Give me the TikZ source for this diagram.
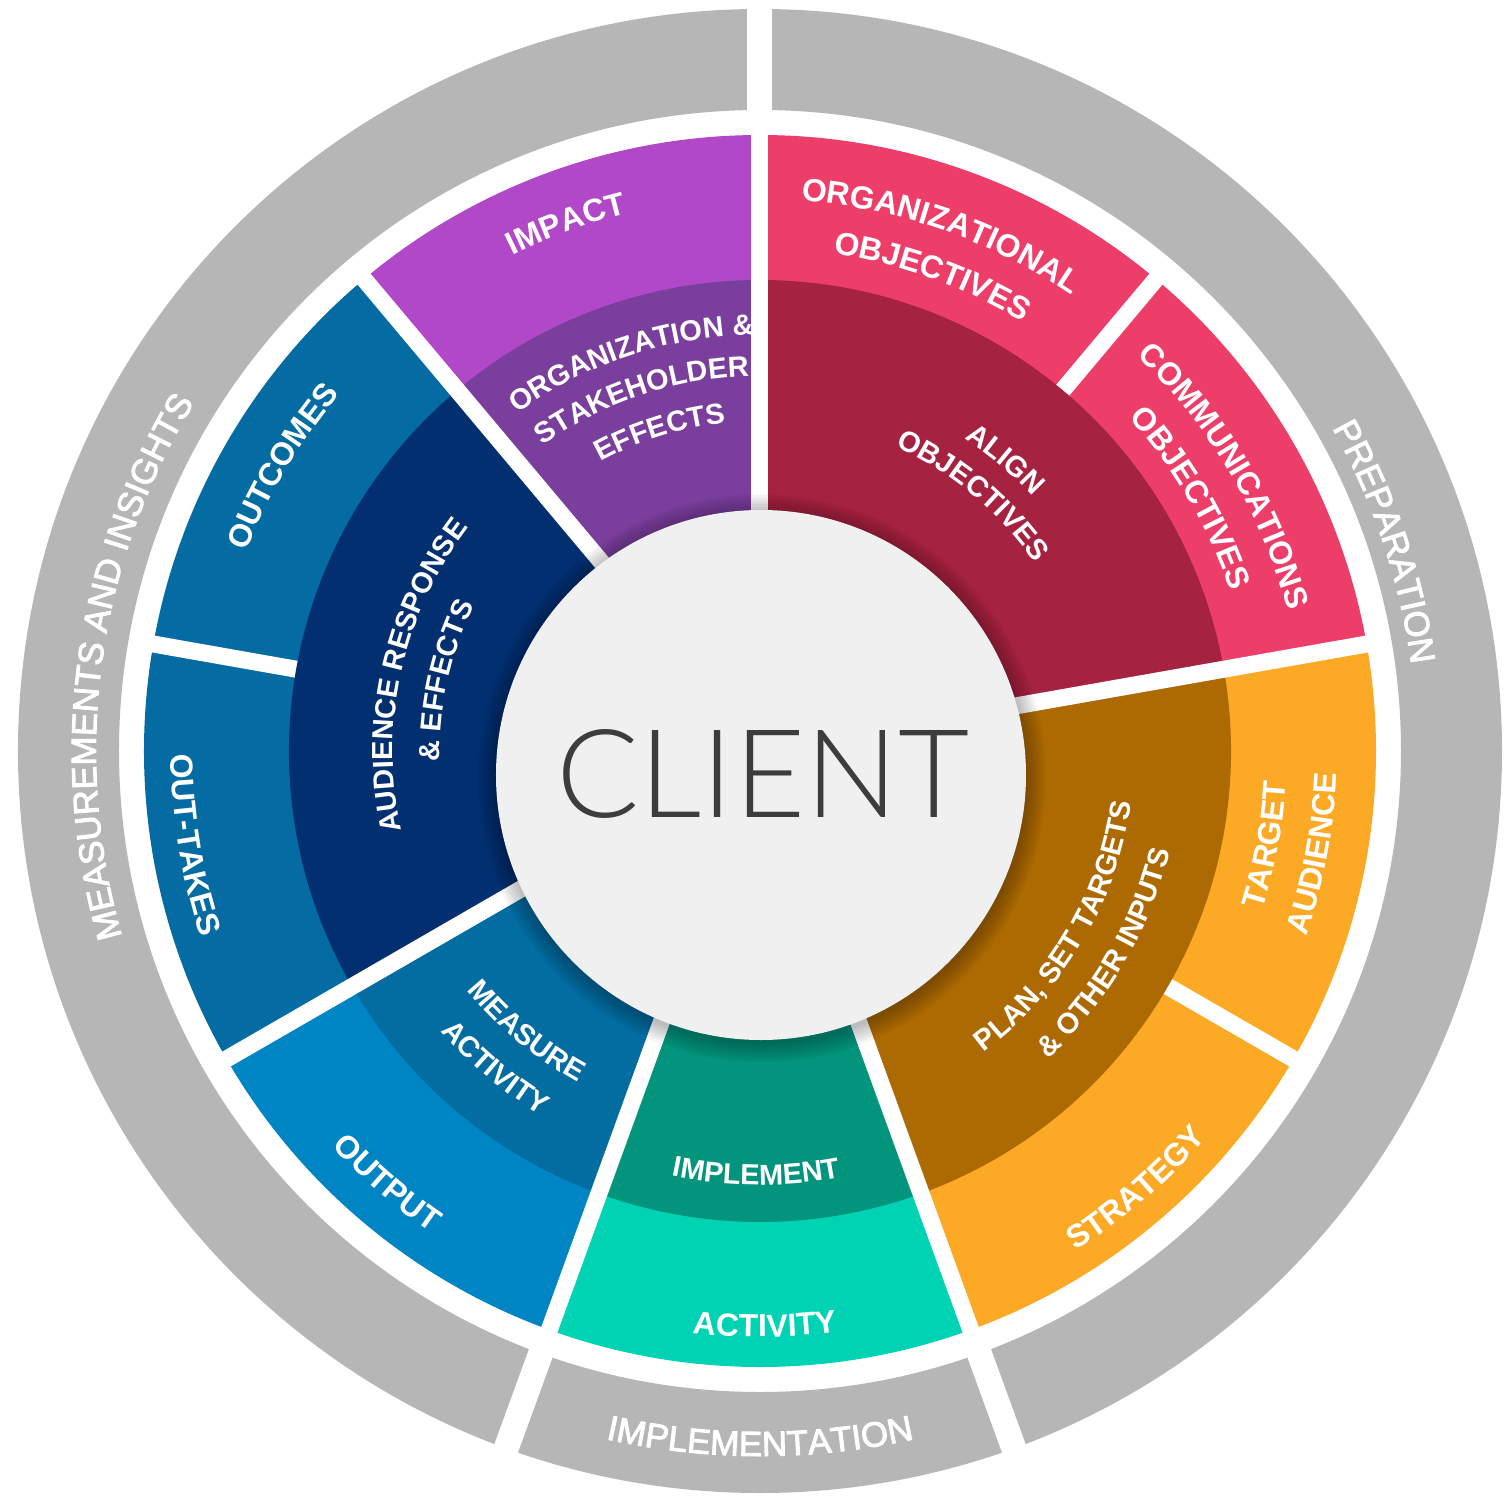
\documentclass[tikz,border=0pt]{standalone}
\usepackage{fontspec}
\usetikzlibrary{decorations.text}
\newfontfamily\lbl{Liberation Sans}
\newfontfamily\grayfont{Liberation Sans}[FakeBold=2.5]
\IfFontExistsTF{Lato Light}{\newfontfamily\clientfont{Lato Light}}{\newfontfamily\clientfont{Liberation Sans}}
\definecolor{ringgray}{HTML}{B6B6B6}
\definecolor{impactc}{HTML}{B048C8}
\definecolor{orgstk}{HTML}{7A3E9D}
\definecolor{pinkc}{HTML}{ED3E6A}
\definecolor{alignc}{HTML}{A62241}
\definecolor{orangec}{HTML}{FCA925}
\definecolor{planc}{HTML}{AD6A03}
\definecolor{implc}{HTML}{02947C}
\definecolor{activc}{HTML}{00D3B4}
\definecolor{outputc}{HTML}{0085C4}
\definecolor{measc}{HTML}{036CA1}
\definecolor{outc}{HTML}{046CA2}
\definecolor{navyc}{HTML}{012F6F}
\definecolor{clientbg}{HTML}{F0F0F0}
\definecolor{clienttx}{HTML}{3D3D3D}
\newcommand\fouter{\lbl\bfseries\fontsize{32pt}{32pt}\selectfont}
\newcommand\finner{\lbl\bfseries\fontsize{29pt}{29pt}\selectfont}
\newcommand\fgray{\grayfont\fontsize{35pt}{35pt}\selectfont}
% clockwise label: letters' tops outward
\newcommand\cwtext[4]{%
  \path[decorate,decoration={text along path,text={|#3|#4},text align=center,text color=white}]
    ({#1+45}:#2pt) arc[start angle={#1+45},end angle={#1-45},radius=#2pt];}
% counter-clockwise label: letters' tops inward
\newcommand\ccwtext[4]{%
  \path[decorate,decoration={text along path,text={|#3|#4},text align=center,text color=white}]
    ({#1-45}:#2pt) arc[start angle={#1-45},end angle={#1+45},radius=#2pt];}
\tikzset{
  gapline/.style={white,line width=17pt},
  graygap/.style={white,line width=25pt},
}
\newcommand\sector[4]{% color, from, to, radius
  \fill[#1] (0,0) -- (#2:#4pt) arc[start angle=#2,end angle=#3,radius=#4pt] -- cycle;}
\begin{document}
\begin{tikzpicture}
\useasboundingbox (-760pt,-757pt) rectangle (748pt,751pt);
\fill[white] (-760pt,-757pt) rectangle (748pt,751pt);
% gray outer ring
\fill[ringgray,even odd rule] (0,0) circle[radius=742pt] (0,0) circle[radius=641pt];
\foreach \a in {90,-70,-110} \draw[graygap] (\a:600pt) -- (\a:780pt);
% light outer segments
\sector{pinkc}{50}{90}{616}
\sector{pinkc}{10}{50}{616}
\sector{orangec}{-30}{10}{616}
\sector{orangec}{-70}{-30}{616}
\sector{activc}{-110}{-70}{616}
\sector{outputc}{-150}{-110}{616}
\sector{outc}{170}{210}{616}
\sector{outc}{130}{170}{616}
\sector{impactc}{90}{130}{616}
% gaps only in the outer ring
\foreach \a in {50,-30,170} \draw[gapline] (\a:400pt) -- (\a:630pt);
% dark inner segments
\sector{alignc}{10}{90}{471}
\sector{planc}{-70}{10}{471}
\sector{implc}{-110}{-70}{471}
\sector{measc}{-150}{-110}{471}
\sector{navyc}{130}{210}{471}
\sector{orgstk}{90}{130}{471}
% gaps through both rings
\foreach \a in {90,10,-70,-110,-150,130} \draw[gapline] (0,0) -- (\a:630pt);
% client disc with soft shadow
\foreach \k in {1,...,8} \fill[black,opacity=.035] (2pt,-27pt) circle[radius={(264+2.5*\k)*1pt}];
\node[circle,fill=clientbg,minimum size=530pt,inner sep=0pt] (clientdisc) at (1pt,-24pt) {};
\node[text=clienttx,inner sep=0pt,font=\clientfont\fontsize{123pt}{123pt}\selectfont] (clienttext) at (3pt,-23pt) {CLIENT};
% labels, upper part (clockwise)
\cwtext{110.2}{554}{\fouter}{IMPACT}
\cwtext{108.3}{416}{\finner}{ORGANIZATION {\&}}
\cwtext{108.5}{375}{\finner}{STAKEHOLDER}
\cwtext{107.4}{330}{\finner}{EFFECTS}
\cwtext{70.7}{552}{\fouter}{ORGANIZATIONAL}
\cwtext{70.1}{503}{\fouter}{OBJECTIVES}
\cwtext{30.6}{546}{\fouter}{COMMUNICATIONS}
\cwtext{30.4}{497}{\fouter}{OBJECTIVES}
\cwtext{49.9}{373}{\finner}{ALIGN}
\cwtext{50.2}{333}{\finner}{OBJECTIVES}
\cwtext{18.5}{657}{\fgray}{PREPARATION}
\cwtext{172.3}{664}{\fgray}{MEASUREMENTS AND INSIGHTS}
\cwtext{149.2}{551}{\fouter}{OUTCOMES}
\cwtext{167.5}{367}{\finner}{AUDIENCE RESPONSE}
\cwtext{167.4}{320}{\finner}{{\&} EFFECTS}
% labels, lower part (counter-clockwise)
\ccwtext{-10.5}{527}{\fouter}{TARGET}
\ccwtext{-10.5}{577}{\fouter}{AUDIENCE}
\ccwtext{-30.6}{375}{\finner}{PLAN, SET TARGETS}
\ccwtext{-30.3}{422}{\finner}{{\&} OTHER INPUTS}
\ccwtext{-49.3}{591}{\fouter}{STRATEGY}
\ccwtext{-90.5}{434}{\finner}{IMPLEMENT}
\ccwtext{-89.5}{586}{\fouter}{ACTIVITY}
\ccwtext{-129.8}{378}{\finner}{MEASURE}
\ccwtext{-129.9}{425}{\finner}{ACTIVITY}
\ccwtext{-130.8}{583}{\fouter}{OUTPUT}
\ccwtext{189.4}{589}{\fouter}{OUT-TAKES}
\ccwtext{-90}{705}{\fgray}{IMPLEMENTATION}
\end{tikzpicture}
\end{document}
